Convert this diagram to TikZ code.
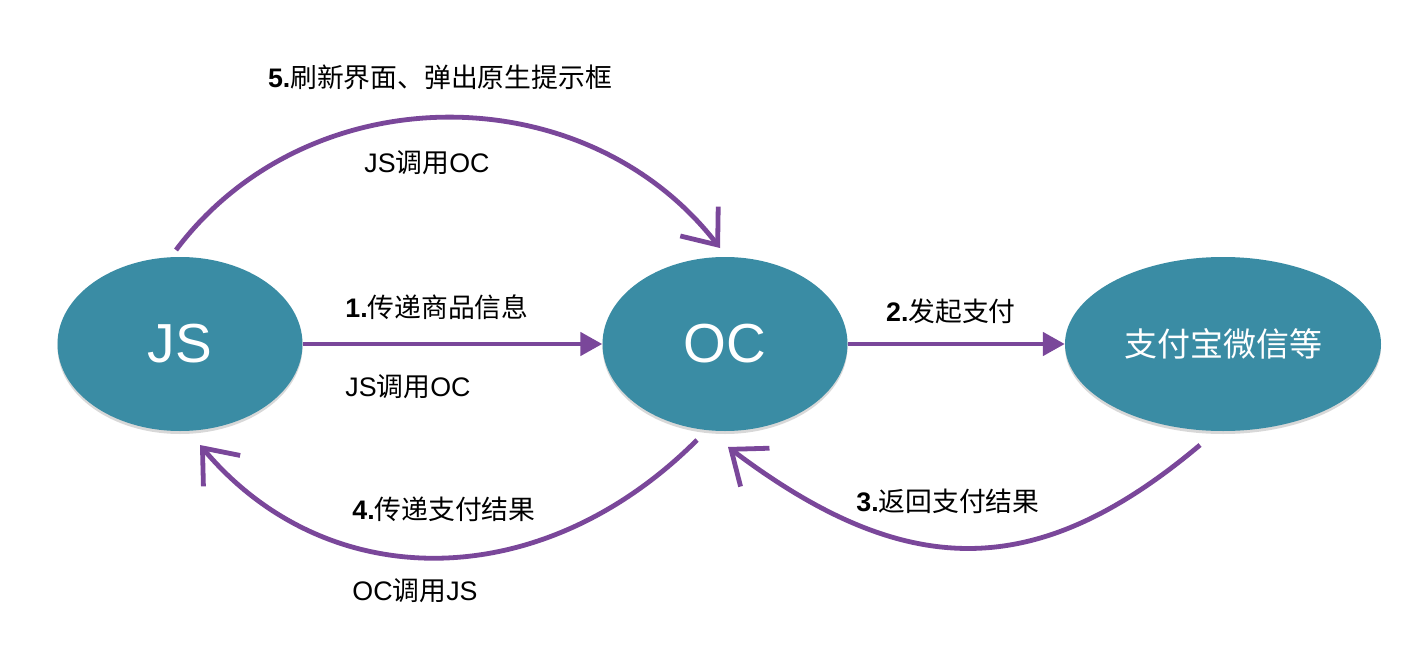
\documentclass[tikz,border=0pt]{standalone}
\usepackage{fontspec}
\setmainfont{Liberation Sans}
\newfontfamily\cjk{Noto Sans CJK SC}
\usetikzlibrary{arrows.meta,shapes.geometric,shadows,calc}
\definecolor{tealfill}{HTML}{3A8CA4}
\definecolor{purp}{HTML}{7A479A}
\begin{document}
\begin{tikzpicture}[x=1pt,y=-1pt,
  blob/.style={ellipse, fill=tealfill, inner sep=0pt, text=white,
    drop shadow={shadow xshift=0pt,shadow yshift=-3pt,opacity=0.3}},
  flow/.style={draw=purp, line width=4.8pt},
  solidtip/.style={-{Triangle[length=22pt,width=23pt]}},
  opentip/.style={-{Straight Barb[length=30pt,width=48pt]}},
  lbl/.style={font=\fontsize{26.8}{30}\selectfont, inner sep=0pt, text=black}]
\fill[white] (0,0) rectangle (1408,658);
\useasboundingbox (0,0) rectangle (1408,658);

\node[blob, minimum width=245pt, minimum height=174pt, font=\fontsize{55}{60}\selectfont] (js) at (180,344) {JS};
\node[blob, minimum width=245pt, minimum height=174pt, font=\fontsize{55}{60}\selectfont] (oc) at (725,344) {OC};
\node[blob, minimum width=316pt, minimum height=174pt, font=\cjk\fontsize{33}{36}\selectfont] (pay) at (1223,344) {支付宝微信等};

\draw[flow,solidtip] (js) -- (oc);
\draw[flow,solidtip] (oc) -- (pay);

\draw[flow,opentip] ($(js.center)+(-4,-94)$) .. controls (308,74) and (585,74) .. ($(oc.center)+(-5,-96)$);
\draw[flow,opentip] ($(oc.center)+(-28,96)$) .. controls (541,596) and (327,596) .. ($(js.center)+(20,101)$);
\draw[flow,opentip] ($(pay.center)+(-23,101)$) .. controls (1037,582) and (907,582) .. ($(oc.center)+(3,103)$);

\node[lbl] (l5) at (440,77) {{\bfseries 5.}{\cjk 刷新界面、弹出原生提示框}};
\node[lbl] (l5b) at (427,163) {JS{\cjk 调用}OC};
\node[lbl] (l1) at (437,307) {{\bfseries 1.}{\cjk 传递商品信息}};
\node[lbl] (l1b) at (408,387) {JS{\cjk 调用}OC};
\node[lbl] (l2) at (951,311) {{\bfseries 2.}{\cjk 发起支付}};
\node[lbl] (l3) at (948,501) {{\bfseries 3.}{\cjk 返回支付结果}};
\node[lbl] (l4) at (444,509) {{\bfseries 4.}{\cjk 传递支付结果}};
\node[lbl] (l4b) at (415,591) {OC{\cjk 调用}JS};
\end{tikzpicture}
\end{document}
